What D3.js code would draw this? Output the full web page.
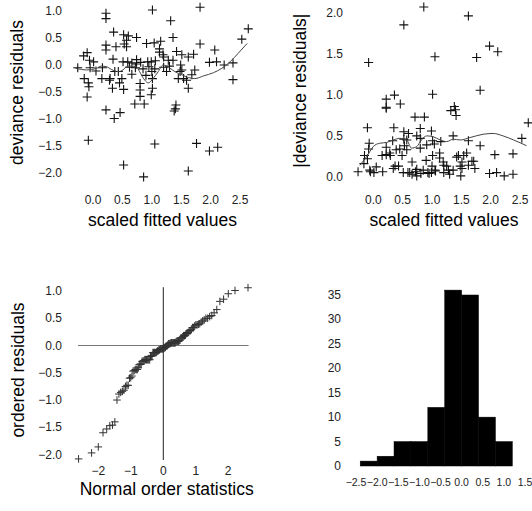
<!DOCTYPE html>
<html>
<head>
<meta charset="utf-8">
<script src="https://cdn.jsdelivr.net/npm/d3@7"></script>
<style>
  html, body { margin: 0; padding: 0; background: #fff; }
  svg { display: block; font-family: "Liberation Sans", Arial, sans-serif; }
</style>
</head>
<body>
<svg id="chart" width="532" height="511"></svg>
<script>
// Model diagnostics: scaled fitted values and their deviance residuals
const fitted = [
  -0.26,-0.16,-0.10,-0.06,-0.05,-0.15,-0.08,-0.07,-0.10,-0.08,
  0.16,0.22,0.22,0.22,0.22,0.15,0.29,0.35,0.39,0.34,0.33,0.22,0.36,0.46,
  0.52,0.60,0.53,0.57,0.51,0.59,0.66,0.37,0.49,0.52,0.52,0.74,0.74,0.72,0.80,0.80,0.80,0.71,0.87,0.86,
  0.91,1.01,1.04,1.15,0.99,1.13,1.13,1.19,1.00,1.01,1.01,0.99,1.05,1.25,
  1.32,1.36,1.42,1.36,1.51,1.62,1.71,1.49,1.51,1.54,1.45,1.73,1.62,1.41,1.40,1.38,1.62,
  1.82,1.82,2.07,1.98,2.10,2.23,2.38,2.38,2.53,2.64,1.76,1.98,2.12,
  0.57,0.74,
  0.05,0.28,0.45,0.43,0.62,0.85,0.90,0.95,1.05,1.20,1.30,1.48,1.68,1.59,0.66,
  0.01,0.81,0.93,1.06,1.28,1.20
];
const residuals = [
  -0.06,0.16,0.22,0.08,-0.06,-0.26,-0.34,-0.41,-0.60,-1.40,
  -0.06,0.95,0.85,0.36,0.27,-0.26,-0.26,0.60,0.33,0.10,-0.44,-0.84,-1.00,-0.89,
  0.55,0.53,0.38,0.33,0.05,0.05,0.03,-0.13,-0.26,-0.46,-1.86,0.09,0.01,-0.06,-0.35,-0.47,-0.59,-0.73,-0.73,-2.08,
  0.39,1.01,0.40,0.43,0.05,0.29,0.23,0.18,-0.13,-0.26,-0.44,-0.56,-1.47,-0.13,
  0.81,0.50,0.24,0.08,0.18,0.14,0.19,-0.01,-0.10,-0.26,-0.26,-0.10,-0.44,-0.75,-0.82,-0.86,-1.97,
  1.06,0.38,0.27,0.04,0.05,-0.01,0.03,-0.28,0.47,0.66,-1.46,-1.60,-1.53,
  0.45,0.50,
  -0.12,-0.29,-0.34,-0.13,-0.05,-0.08,-0.20,-0.04,-0.08,-0.05,-0.03,-0.13,-0.19,-0.29,-0.18,
  0.05,0.04,0.05,0.07,0.08,0.14
];

// Smoothed trend of residuals against fitted values
const smoothFit = [-0.30,-0.20,-0.11,0.06,0.14,0.23,0.31,0.43,0.51,0.57,0.65,0.74,0.79,0.88,0.94,1.02,1.11,1.19,1.31,1.39,1.51,1.62,1.73,1.88,2.05,2.19,2.33,2.47,2.62];
const smoothRes = [-0.07,-0.09,-0.10,-0.07,-0.03,-0.04,-0.09,-0.13,-0.10,-0.04,-0.03,-0.04,-0.13,-0.29,-0.34,-0.26,-0.13,-0.01,-0.07,-0.13,-0.19,-0.24,-0.26,-0.21,-0.15,-0.07,0.05,0.21,0.39];

// Smoothed trend of absolute residuals
const absSmoothFit = [-0.23,-0.11,0.00,0.11,0.23,0.34,0.45,0.57,0.65,0.74,0.82,0.91,1.02,1.14,1.25,1.36,1.48,1.65,1.87,2.04,2.21,2.39,2.61];
const absSmoothRes = [0.14,0.25,0.37,0.41,0.42,0.45,0.47,0.45,0.35,0.37,0.45,0.50,0.49,0.45,0.43,0.46,0.45,0.48,0.52,0.53,0.50,0.45,0.38];

// Histogram of residuals
const histEdges = [-2.4,-2.0,-1.6,-1.2,-0.8,-0.4,0.0,0.4,0.8,1.2];
const histCounts = [1,2,5,5,12,36,35,10,5];

// Tick values
const fitTicks = [0.0,0.5,1.0,1.5,2.0,2.5];
const resTicks = [-2.0,-1.5,-1.0,-0.5,0.0,0.5,1.0];
const absTicks = [0.0,0.5,1.0,1.5,2.0];
const normTicks = [-2,-1,0,1,2];
const histXTicks = [-2.5,-2.0,-1.5,-1.0,-0.5,0.0,0.5,1.0,1.5];
const histYTicks = [0,5,10,15,20,25,30,35];

const svg = d3.select("#chart");
svg.append("rect").attr("width", 532).attr("height", 511).attr("fill", "#fff");

const f1 = d3.format(".1f");
const fInt = d3.format("d");
const crossPath = s => `M${-s},0H${s}M0,${-s}V${s}`;
const TICK_FONT = 12, TITLE_FONT = 17.5;

function yTickLabels(scale, ticks, xRight, fmt, size = TICK_FONT) {
  svg.append("g").selectAll("text").data(ticks).join("text")
    .attr("x", xRight).attr("y", d => scale(d))
    .attr("text-anchor", "end").attr("dominant-baseline", "central")
    .attr("font-size", size).attr("fill", "#222").text(fmt);
}
function xTickLabels(scale, ticks, yPos, fmt, size = TICK_FONT) {
  svg.append("g").selectAll("text").data(ticks).join("text")
    .attr("x", d => scale(d)).attr("y", yPos)
    .attr("text-anchor", "middle").attr("dominant-baseline", "central")
    .attr("font-size", size).attr("fill", "#222").text(fmt);
}
function title(text, x, y, rotate) {
  const t = svg.append("text").attr("font-size", TITLE_FONT).attr("fill", "#000")
    .attr("text-anchor", "middle").text(text);
  if (rotate) {
    t.attr("transform", `translate(${x},${y}) rotate(-90)`).attr("dominant-baseline", "central");
  } else {
    t.attr("x", x).attr("y", y);
  }
}
function crosses(data, sx, sy, size, color, width) {
  svg.append("g").selectAll("path").data(data).join("path")
    .attr("transform", d => `translate(${sx(d[0])},${sy(d[1])})`)
    .attr("d", crossPath(size)).attr("stroke", color)
    .attr("stroke-width", width).attr("fill", "none");
}

const pts = fitted.map((f, i) => [f, residuals[i]]);

// Panel 1: deviance residuals vs scaled fitted values
const p1x = d3.scaleLinear().domain([-0.3, 2.7]).range([75.4, 251.8]);
const p1y = d3.scaleLinear().domain([-2.1, 1.1]).range([178, 5.1]);
yTickLabels(p1y, resTicks, 62, f1);
xTickLabels(p1x, fitTicks, 200, f1);
title("deviance residuals", 17, 92.5, true);
title("scaled fitted values", 162.5, 226, false);
crosses(pts, p1x, p1y, 4.5, "#111", 1.1);
svg.append("path")
  .datum(smoothFit.map((f, i) => [f, smoothRes[i]]))
  .attr("d", d3.line().x(d => p1x(d[0])).y(d => p1y(d[1])).curve(d3.curveMonotoneX))
  .attr("fill", "none").attr("stroke", "#444").attr("stroke-width", 1);

// Panel 2: absolute deviance residuals vs scaled fitted values
const p2x = d3.scaleLinear().domain([-0.3, 2.7]).range([355.7, 531.8]);
const p2y = d3.scaleLinear().domain([0, 2.1]).range([176.7, 5.3]);
yTickLabels(p2y, absTicks, 343, f1);
xTickLabels(p2x, fitTicks, 200, f1);
title("|deviance residuals|", 300, 90.7, true);
title("scaled fitted values", 444, 226, false);
crosses(pts.map(d => [d[0], Math.abs(d[1])]), p2x, p2y, 4.5, "#111", 1.1);
svg.append("path")
  .datum(absSmoothFit.map((f, i) => [f, absSmoothRes[i]]))
  .attr("d", d3.line().x(d => p2x(d[0])).y(d => p2y(d[1])).curve(d3.curveMonotoneX))
  .attr("fill", "none").attr("stroke", "#444").attr("stroke-width", 1);

// Panel 3: normal Q-Q plot of the residuals
function qnorm(p) {
  // Acklam's rational approximation to the inverse normal CDF
  const a = [-3.969683028665376e+01, 2.209460984245205e+02, -2.759285104469687e+02, 1.383577518672690e+02, -3.066479806614716e+01, 2.506628277459239e+00];
  const b = [-5.447609879822406e+01, 1.615858368580409e+02, -1.556989798598866e+02, 6.680131188771972e+01, -1.328068155288572e+01];
  const c = [-7.784894002430293e-03, -3.223964580411365e-01, -2.400758277161838e+00, -2.549732539343734e+00, 4.374664141464968e+00, 2.938163982698783e+00];
  const d = [7.784695709041462e-03, 3.224671290700398e-01, 2.445134137142996e+00, 3.754408661907416e+00];
  const pl = 0.02425, ph = 1 - pl;
  let q, r;
  if (p < pl) {
    q = Math.sqrt(-2 * Math.log(p));
    return (((((c[0]*q+c[1])*q+c[2])*q+c[3])*q+c[4])*q+c[5]) / ((((d[0]*q+d[1])*q+d[2])*q+d[3])*q+1);
  } else if (p <= ph) {
    q = p - 0.5; r = q * q;
    return (((((a[0]*r+a[1])*r+a[2])*r+a[3])*r+a[4])*r+a[5])*q / (((((b[0]*r+b[1])*r+b[2])*r+b[3])*r+b[4])*r+1);
  }
  q = Math.sqrt(-2 * Math.log(1 - p));
  return -(((((c[0]*q+c[1])*q+c[2])*q+c[3])*q+c[4])*q+c[5]) / ((((d[0]*q+d[1])*q+d[2])*q+d[3])*q+1);
}
const sorted = residuals.slice().sort(d3.ascending);
const n = sorted.length;
const qq = sorted.map((r, i) => [qnorm((i + 0.5) / n), r]);

const p3x = d3.scaleLinear().domain([-2.63, 2.63]).range([78, 248.6]);
const p3y = d3.scaleLinear().domain([-2.1, 1.07]).range([460, 287.2]);
yTickLabels(p3y, resTicks, 62, f1);
xTickLabels(p3x, normTicks, 470.5, fInt);
title("ordered residuals", 18, 370, true);
title("Normal order statistics", 166.7, 495, false);
svg.append("line")
  .attr("x1", p3x.range()[0]).attr("x2", p3x.range()[1])
  .attr("y1", p3y(0)).attr("y2", p3y(0))
  .attr("stroke", "#777").attr("stroke-width", 1);
svg.append("line")
  .attr("x1", p3x(0)).attr("x2", p3x(0))
  .attr("y1", p3y.range()[1]).attr("y2", p3y.range()[0])
  .attr("stroke", "#222").attr("stroke-width", 1);
crosses(qq, p3x, p3y, 3.8, "#333", 1);

// Panel 4: histogram of residuals
const p4x = d3.scaleLinear().domain([-2.5, 1.5]).range([356, 525]);
const p4y = d3.scaleLinear().domain([0, 35]).range([466, 295]);
const bins = histCounts.map((c, i) => ({ x0: histEdges[i], x1: histEdges[i + 1], count: c }));
svg.append("g").selectAll("rect").data(bins).join("rect")
  .attr("x", d => p4x(d.x0)).attr("width", d => p4x(d.x1) - p4x(d.x0))
  .attr("y", d => p4y(d.count)).attr("height", d => p4y(0) - p4y(d.count))
  .attr("fill", "#000").attr("stroke", "#000").attr("stroke-width", 0.5);
yTickLabels(p4y, histYTicks, 341, fInt);
xTickLabels(p4x, histXTicks, 481.7, f1, 10.5);
</script>
</body>
</html>
